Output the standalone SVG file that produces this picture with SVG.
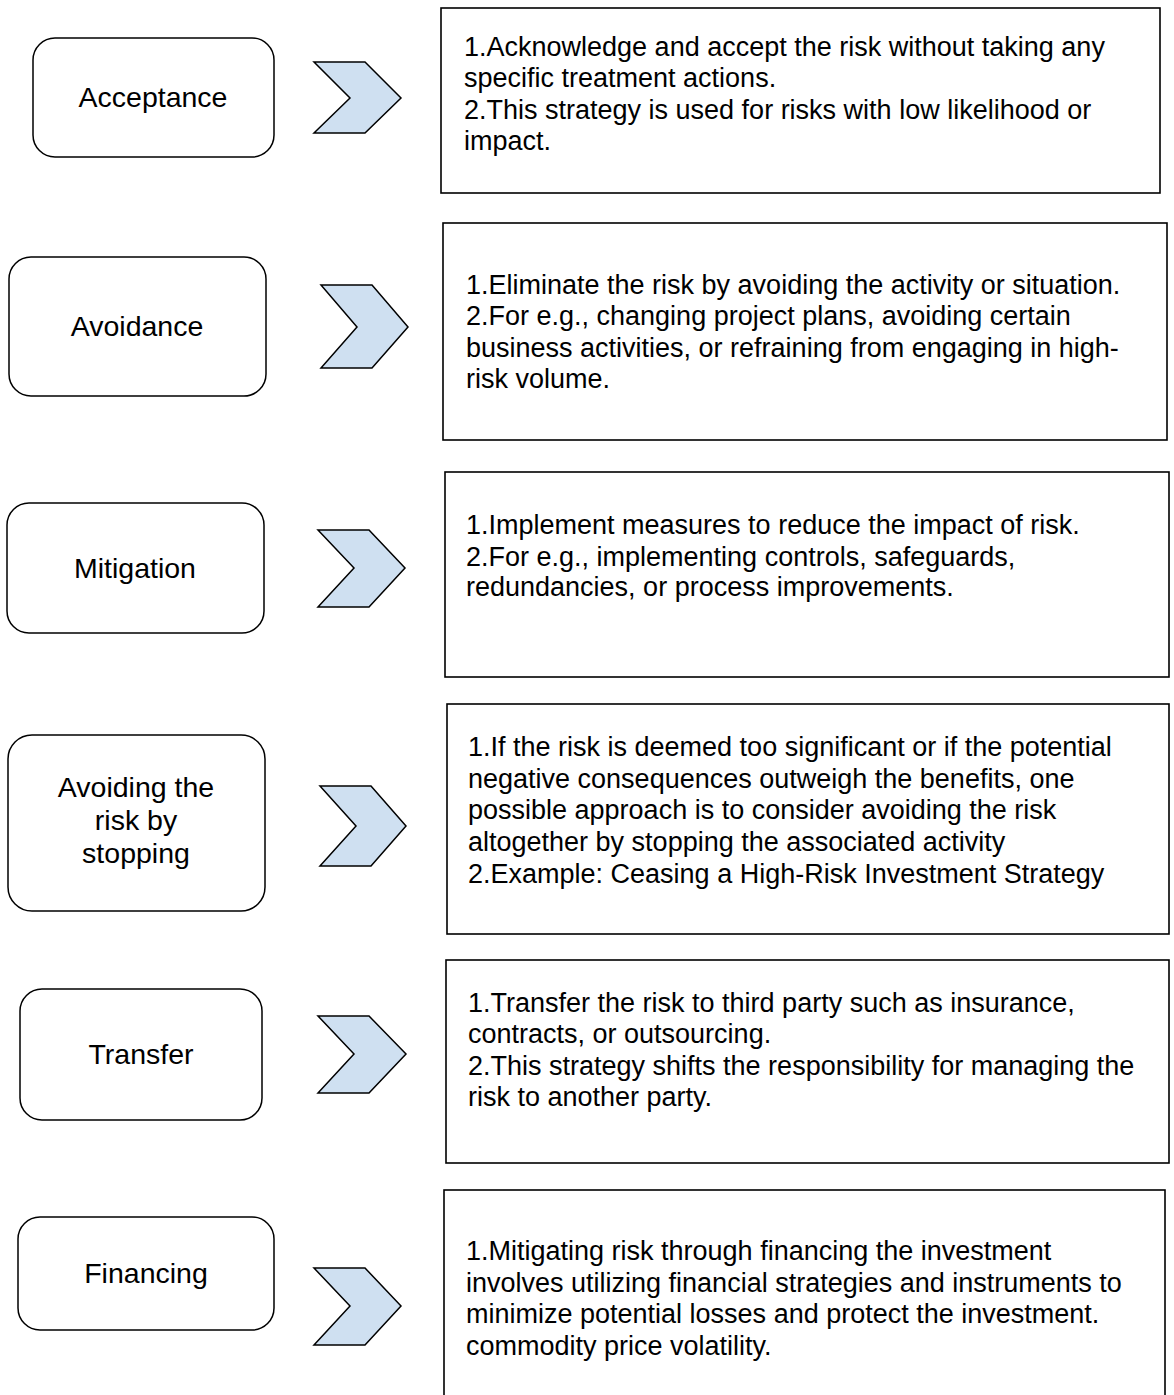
<svg xmlns="http://www.w3.org/2000/svg" width="1174" height="1395" viewBox="0 0 1174 1395">
<style>
.node{fill:#ffffff;stroke:#000000;stroke-width:1.5}
.chev{fill:#cfe0f1;stroke:#000000;stroke-width:1.5;stroke-linejoin:miter}
.box{fill:#ffffff;stroke:#000000;stroke-width:1.6}
.lbl{font-family:"Liberation Sans",Arial,sans-serif;font-size:28.5px;fill:#000000;text-anchor:middle}
.txt{font-family:"Liberation Sans",Arial,sans-serif;font-size:27px;fill:#000000}
</style>
<rect width="1174" height="1395" fill="#ffffff"/>
<g id="connectors">
<polygon class="chev" points="314,62 365,62 401,98 365,133 314,133 350,98"/>
<polygon class="chev" points="321,285 372,285 408,327 372,368 321,368 357,327"/>
<polygon class="chev" points="318,530 369,530 405,568 369,607 318,607 354,568"/>
<polygon class="chev" points="320,786 371,786 406,826 371,866 320,866 356,826"/>
<polygon class="chev" points="318,1016 369,1016 406,1054 369,1093 318,1093 354,1054"/>
<polygon class="chev" points="314,1268 365,1268 401,1306 365,1345 314,1345 350,1306"/>
</g>
<g id="acceptance">
<rect class="node" x="33" y="38" width="241" height="119" rx="22"/>
<text class="lbl" x="153" y="107">Acceptance</text>
</g>
<g id="acceptance-desc">
<rect class="box" x="441" y="8" width="719" height="185"/>
<text class="txt" x="464" y="56">1.Acknowledge and accept the risk without taking any</text>
<text class="txt" x="464" y="87">specific treatment actions.</text>
<text class="txt" x="464" y="119">2.This strategy is used for risks with low likelihood or</text>
<text class="txt" x="464" y="150">impact.</text>
</g>
<g id="avoidance">
<rect class="node" x="9" y="257" width="257" height="139" rx="22"/>
<text class="lbl" x="137" y="336">Avoidance</text>
</g>
<g id="avoidance-desc">
<rect class="box" x="443" y="223" width="724" height="217"/>
<text class="txt" x="466" y="294">1.Eliminate the risk by avoiding the activity or situation.</text>
<text class="txt" x="466" y="325">2.For e.g., changing project plans, avoiding certain</text>
<text class="txt" x="466" y="357">business activities, or refraining from engaging in high-</text>
<text class="txt" x="466" y="388">risk volume.</text>
</g>
<g id="mitigation">
<rect class="node" x="7" y="503" width="257" height="130" rx="22"/>
<text class="lbl" x="135" y="578">Mitigation</text>
</g>
<g id="mitigation-desc">
<rect class="box" x="445" y="472" width="724" height="205"/>
<text class="txt" x="466" y="534">1.Implement measures to reduce the impact of risk.</text>
<text class="txt" x="466" y="566">2.For e.g., implementing controls, safeguards,</text>
<text class="txt" x="466" y="596">redundancies, or process improvements.</text>
</g>
<g id="stopping">
<rect class="node" x="8" y="735" width="257" height="176" rx="24"/>
<text class="lbl" x="136" y="797">Avoiding the</text>
<text class="lbl" x="136" y="830">risk by</text>
<text class="lbl" x="136" y="863">stopping</text>
</g>
<g id="stopping-desc">
<rect class="box" x="447" y="704" width="722" height="230"/>
<text class="txt" x="468" y="756">1.If the risk is deemed too significant or if the potential</text>
<text class="txt" x="468" y="788">negative consequences outweigh the benefits, one</text>
<text class="txt" x="468" y="819">possible approach is to consider avoiding the risk</text>
<text class="txt" x="468" y="851">altogether by stopping the associated activity</text>
<text class="txt" x="468" y="883">2.Example: Ceasing a High-Risk Investment Strategy</text>
</g>
<g id="transfer">
<rect class="node" x="20" y="989" width="242" height="131" rx="22"/>
<text class="lbl" x="141" y="1064">Transfer</text>
</g>
<g id="transfer-desc">
<rect class="box" x="446" y="960" width="723" height="203"/>
<text class="txt" x="468" y="1012">1.Transfer the risk to third party such as insurance,</text>
<text class="txt" x="468" y="1043">contracts, or outsourcing.</text>
<text class="txt" x="468" y="1075">2.This strategy shifts the responsibility for managing the</text>
<text class="txt" x="468" y="1106">risk to another party.</text>
</g>
<g id="financing">
<rect class="node" x="18" y="1217" width="256" height="113" rx="22"/>
<text class="lbl" x="146" y="1283">Financing</text>
</g>
<g id="financing-desc">
<rect class="box" x="444" y="1190" width="721" height="220"/>
<text class="txt" x="466" y="1260">1.Mitigating risk through financing the investment</text>
<text class="txt" x="466" y="1292">involves utilizing financial strategies and instruments to</text>
<text class="txt" x="466" y="1323">minimize potential losses and protect the investment.</text>
<text class="txt" x="466" y="1355">commodity price volatility.</text>
</g>
</svg>
